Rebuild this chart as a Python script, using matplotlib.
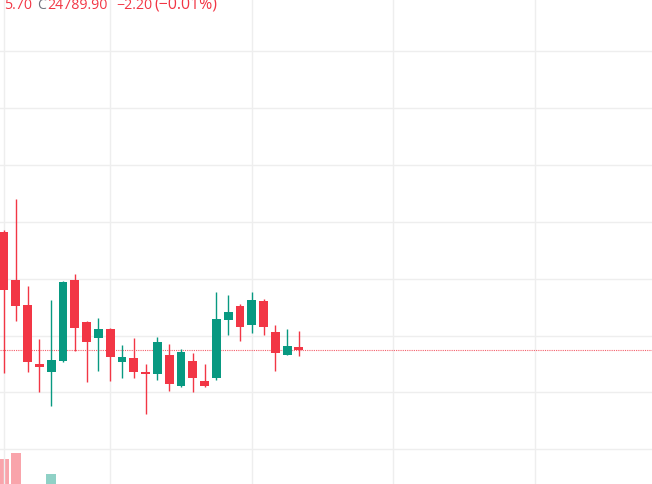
import matplotlib
matplotlib.use("Agg")
import matplotlib.pyplot as plt
import numpy as np

plt.rcParams['font.family'] = ['Open Sans', 'DejaVu Sans']

# 5-minute candles (open, high, low, close)
opens = [24872.5, 24838.8, 24821.7, 24780.2, 24774.1, 24782.3, 24839.2, 24809.3, 24798.0, 24804.8,
         24781.2, 24784.0, 24774.0, 24772.7, 24786.5, 24764.3, 24782.3, 24768.2, 24769.9, 24811.2,
         24821.0, 24807.6, 24824.5, 24802.5, 24786.5, 24792.1]
highs = [24874.0, 24896.0, 24835.0, 24797.5, 24825.2, 24838.5, 24843.4, 24810.0, 24812.5, 24805.5,
         24793.5, 24798.5, 24780.0, 24799.2, 24794.0, 24790.5, 24787.7, 24780.0, 24830.4, 24828.7,
         24822.0, 24830.4, 24825.5, 24807.6, 24804.4, 24803.4]
lows = [24773.4, 24810.4, 24774.6, 24760.5, 24750.6, 24781.5, 24789.3, 24767.5, 24775.3, 24768.2,
        24770.3, 24770.1, 24744.8, 24768.7, 24761.2, 24764.0, 24760.5, 24763.8, 24768.9, 24800.6,
        24795.9, 24802.0, 24800.6, 24775.3, 24786.0, 24785.8]
closes = [24831.8, 24821.0, 24781.2, 24777.6, 24783.0, 24837.8, 24805.1, 24795.2, 24804.8, 24785.1,
          24785.1, 24774.1, 24772.6, 24795.6, 24765.9, 24788.6, 24769.9, 24764.3, 24811.8, 24816.7,
          24806.2, 24825.2, 24806.2, 24787.9, 24792.8, 24789.9]
volumes = [6000, 6600, 2000, 1500, 4500, 3000, 2500, 1800, 1200, 2000,
           1000, 1200, 1400, 2200, 1600, 1400, 1200, 1000, 3000, 1400,
           1600, 1800, 1200, 2000, 1000, 800]

price_grid = [24720, 24760, 24800, 24840, 24880, 24920, 24960, 25000]
time_grid = [0, 9, 21, 33, 45]

last_close = 24789.90
header_prefix = "5.70"
header_close = "24789.90"
header_change = "\u22122.20"
header_pct = "(\u22120.01%)"

UP = '#089981'
DOWN = '#F23645'

fig = plt.figure(figsize=(6.52, 4.85), dpi=100)
ax = fig.add_axes([0, 0, 1, 1])
ax_vol = ax.twinx()

x = np.arange(len(opens))
o = np.array(opens)
c = np.array(closes)
up = c >= o
cols = np.where(up, UP, DOWN)

# volume bars (mostly below the visible area)
ax_vol.bar(x, volumes, width=0.86, color=cols, alpha=0.45, linewidth=0, zorder=1)
ax_vol.set_ylim(3500, 52000)
ax_vol.axis('off')

# grid
for p in price_grid:
    ax.axhline(p, color='#eeeeee', lw=1.0, zorder=0)
for t in time_grid:
    ax.axvline(t, color='#eeeeee', lw=1.0, zorder=0)

# candles
ax.vlines(x, lows, highs, colors=cols, lw=1.0, zorder=3)
ax.bar(x, np.abs(c - o), bottom=np.minimum(o, c), width=0.76, color=cols,
       linewidth=0, zorder=4)

# last price line
ax.axhline(last_close, color=DOWN, lw=0.8, ls=(0, (1, 1)), alpha=0.8, zorder=2)

ax.set_xlim(-0.34, 54.92)
ax.set_ylim(24695.6, 25036.6)
ax.set_zorder(ax_vol.get_zorder() + 1)
ax.patch.set_visible(False)
ax.set_xticks([])
ax.set_yticks([])
for s in ax.spines.values():
    s.set_visible(False)
for s in ax_vol.spines.values():
    s.set_visible(False)

# header legend (cut off at the top/left edge)
px = lambda v: v / 652
py = 1 - 8.8 / 485
fs = 10.2
fig.text(px(32), py, header_prefix, color=DOWN, fontsize=fs, ha='right', va='baseline')
fig.text(px(37), py, "C", color='#70737e', fontsize=fs, ha='left', va='baseline')
fig.text(px(47.5), py, header_close, color=DOWN, fontsize=fs, ha='left', va='baseline')
fig.text(px(116), py, header_change, color=DOWN, fontsize=fs, ha='left', va='baseline')
fig.text(px(154), py, header_pct, color=DOWN, fontsize=fs * 1.12, ha='left', va='baseline')

fig.savefig('out.png', dpi=100)
